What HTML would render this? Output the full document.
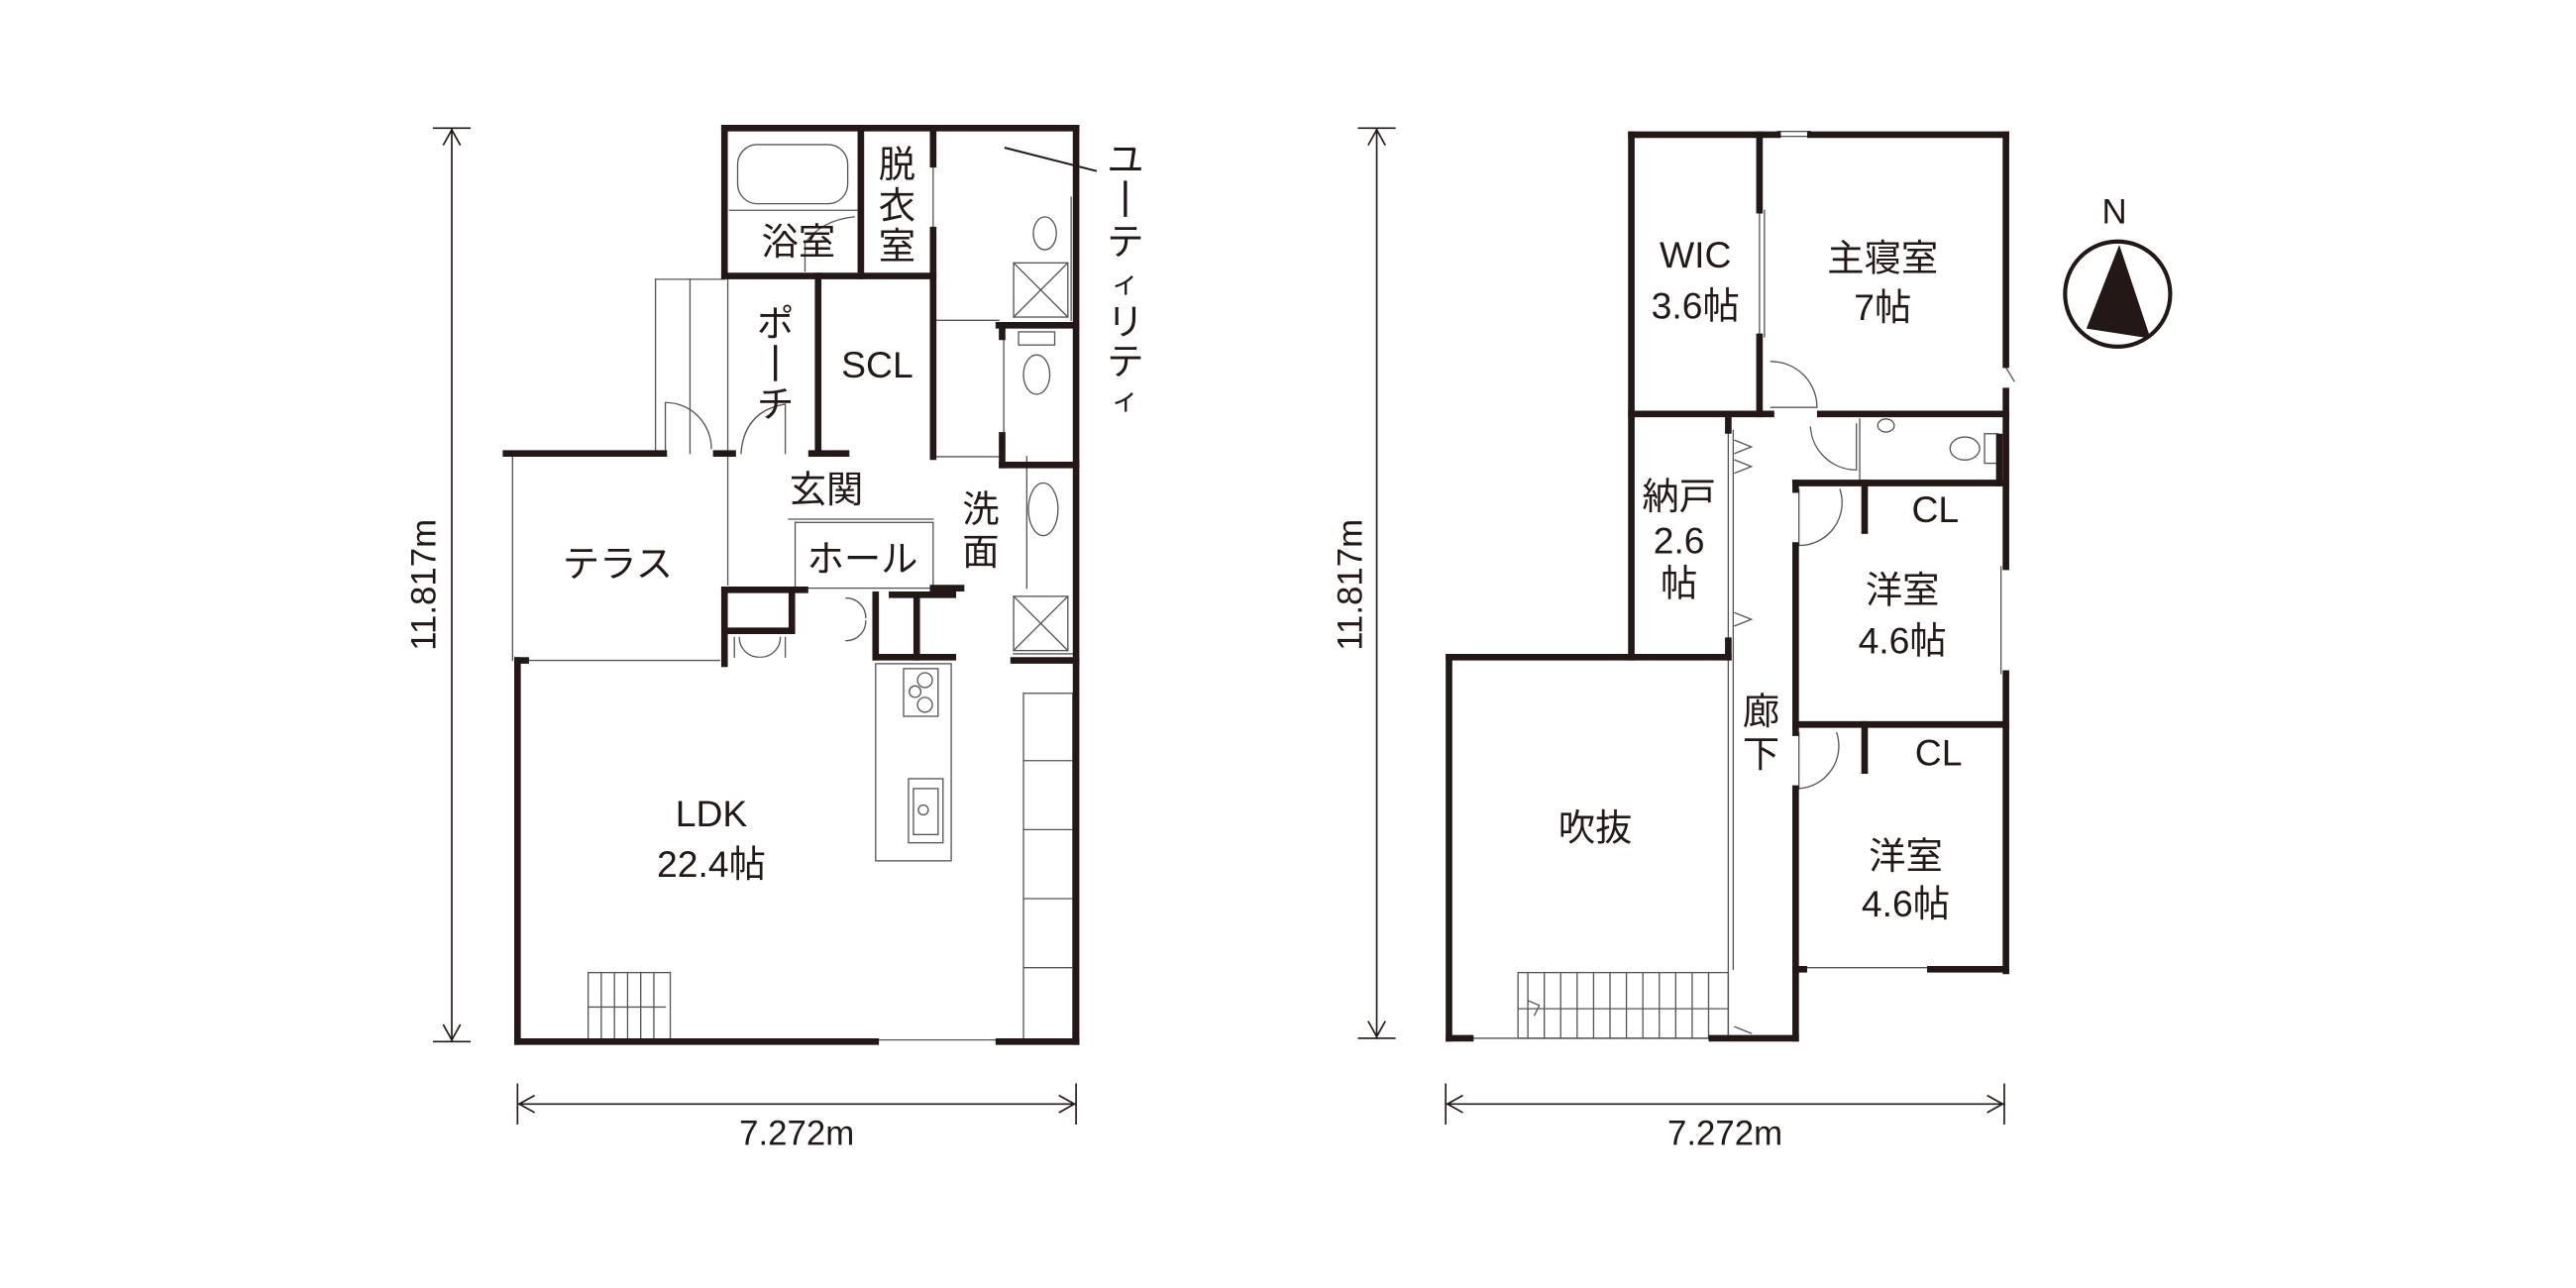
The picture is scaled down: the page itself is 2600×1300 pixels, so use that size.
<!DOCTYPE html>
<html><head><meta charset="utf-8"><style>
html,body{margin:0;padding:0;background:#fff;}
svg{display:block;}
text{font-family:"Liberation Sans","Noto Sans CJK JP",sans-serif;fill:#231815;text-anchor:middle;dominant-baseline:central;}
</style></head><body>
<svg width="2600" height="1300" viewBox="0 0 1568 784" xmlns="http://www.w3.org/2000/svg">
<g fill="none" stroke="#231815" stroke-linecap="square">
<g stroke-width="0.8" stroke="#555">
<line x1="312" y1="276" x2="312" y2="402"/>
<line x1="320" y1="402" x2="438" y2="402"/>
<line x1="399" y1="170" x2="399" y2="276"/>
<line x1="420" y1="170" x2="420" y2="276"/>
<line x1="399" y1="170" x2="441" y2="170"/>
<line x1="443" y1="170" x2="443" y2="276"/>
<line x1="443" y1="278" x2="443" y2="356"/>
<path d="M405 276 V245 A28 28 0 0 1 433 273"/>
<path d="M451 276 Q453 250 478 246 L478 276"/>
<rect x="484" y="318" width="84" height="40"/>
<line x1="480" y1="316" x2="568" y2="316"/>
<line x1="568" y1="195" x2="608" y2="195"/>
<line x1="568" y1="278" x2="608" y2="278"/>
<line x1="625" y1="278" x2="625" y2="358"/>
<ellipse cx="635" cy="310" rx="9" ry="16"/>
<line x1="611" y1="200" x2="611" y2="278"/>
<rect x="620" y="202" width="22" height="8"/>
<ellipse cx="631" cy="228" rx="8" ry="12"/>
<ellipse cx="636" cy="142" rx="7" ry="10"/>
<rect x="617" y="160" width="33" height="33"/>
<line x1="617" y1="160" x2="650" y2="193"/><line x1="650" y1="160" x2="617" y2="193"/>
<line x1="652" y1="120" x2="652" y2="195"/>
<line x1="612" y1="90" x2="667" y2="104" stroke="#231815" stroke-width="1.2"/>
<rect x="449" y="88" width="67" height="36" rx="12"/>
<line x1="444" y1="128" x2="522" y2="128"/>
<path d="M490 165 V148 Q500 134 520 132"/>
<line x1="568" y1="100" x2="568" y2="140"/>
<rect x="617" y="363" width="33" height="33"/>
<line x1="617" y1="363" x2="650" y2="396"/><line x1="650" y1="363" x2="617" y2="396"/>
<line x1="617" y1="398" x2="655" y2="398"/>
<path d="M515 364 A12 12 0 0 1 527 376 M515 390 A12 12 0 0 0 527 378"/>
<rect x="533" y="404" width="46" height="120"/>
<rect x="550" y="407" width="21" height="29"/>
<circle cx="563" cy="414" r="4.5"/><circle cx="557" cy="421" r="3.5"/><circle cx="563" cy="429" r="4.5"/>
<rect x="553" y="474" width="21" height="39"/>
<rect x="556" y="480" width="15" height="28"/>
<circle cx="562" cy="493" r="3"/>
<rect x="623" y="422" width="30" height="212"/>
<line x1="623" y1="463" x2="653" y2="463"/><line x1="623" y1="505" x2="653" y2="505"/>
<line x1="623" y1="547" x2="653" y2="547"/><line x1="623" y1="589" x2="653" y2="589"/>
<rect x="358" y="592" width="50" height="42"/>
<line x1="366" y1="592" x2="366" y2="634"/><line x1="374" y1="592" x2="374" y2="634"/><line x1="382" y1="592" x2="382" y2="634"/><line x1="390" y1="592" x2="390" y2="634"/><line x1="398" y1="592" x2="398" y2="634"/>
<line x1="358" y1="613" x2="405" y2="613"/>
<line x1="533" y1="633" x2="608" y2="633"/>
<line x1="443" y1="385" x2="482" y2="385"/>
<path d="M447 400 L447 388 M478 400 L478 388 M450 388 A12 12 0 0 0 462 400 M475 388 A12 12 0 0 1 463 400"/>
</g>
<g stroke-width="4" stroke="#231815">
<line x1="441" y1="78" x2="655" y2="78"/>
<line x1="655" y1="78" x2="655" y2="634"/>
<line x1="315" y1="634" x2="533" y2="634"/>
<line x1="608" y1="634" x2="655" y2="634"/>
<line x1="315" y1="402" x2="315" y2="634"/>
<line x1="441" y1="78" x2="441" y2="168"/>
<line x1="441" y1="168" x2="568" y2="168"/>
<line x1="524" y1="78" x2="524" y2="168"/>
<line x1="568" y1="78" x2="568" y2="100"/>
<line x1="568" y1="140" x2="568" y2="278"/>
<line x1="498" y1="168" x2="498" y2="276"/>
<line x1="308" y1="276" x2="404" y2="276"/>
<line x1="436" y1="276" x2="446" y2="276"/>
<line x1="494" y1="276" x2="515" y2="276"/>
<line x1="441" y1="359" x2="441" y2="404"/>
<line x1="441" y1="359" x2="490" y2="359"/>
<line x1="482" y1="359" x2="482" y2="384"/>
<line x1="442" y1="384" x2="482" y2="384"/>
<line x1="568" y1="358" x2="585" y2="358"/>
<line x1="608" y1="198" x2="655" y2="198"/>
<line x1="610" y1="283" x2="655" y2="283"/>
<line x1="610" y1="198" x2="610" y2="205"/>
<line x1="610" y1="265" x2="610" y2="283"/>
<line x1="533" y1="362" x2="533" y2="400"/>
<line x1="558" y1="362" x2="558" y2="400"/>
<line x1="533" y1="400" x2="580" y2="400"/>
<line x1="543" y1="362" x2="580" y2="362"/>
<line x1="617" y1="402" x2="655" y2="402"/>
<line x1="315" y1="402" x2="320" y2="402"/>
</g>
<g stroke-width="1" stroke="#231815">
<line x1="275" y1="78" x2="275" y2="634"/>
<line x1="264" y1="78" x2="286" y2="78"/><line x1="264" y1="634" x2="286" y2="634"/>
<path d="M270 88 L275 79 L280 88 M270 624 L275 633 L280 624"/>
<line x1="315" y1="672" x2="655" y2="672"/>
<line x1="315" y1="660" x2="315" y2="684"/><line x1="655" y1="660" x2="655" y2="684"/>
<path d="M325 667 L316 672 L325 677 M645 667 L654 672 L645 677"/>
</g>

<g stroke-width="0.8" stroke="#555">
<line x1="1071" y1="128" x2="1071" y2="205"/>
<line x1="1074" y1="128" x2="1074" y2="205"/>
<path d="M1078 220 A28 28 0 0 1 1106 248 L1078 248"/>
<path d="M1102 260 A28 28 0 0 0 1130 286 L1130 258"/>
<line x1="1132" y1="255" x2="1132" y2="294"/>
<ellipse cx="1148" cy="259" rx="5" ry="4"/>
<ellipse cx="1196" cy="273" rx="9" ry="7"/>
<rect x="1208" y="264" width="8" height="18"/>
<path d="M1095 298 L1095 332 A26 26 0 0 0 1120 298"/>
<line x1="1052" y1="262" x2="1052" y2="630"/>
<line x1="1055" y1="262" x2="1055" y2="590"/>
<path d="M1056 268 L1066 272 L1056 276 M1056 280 L1066 284 L1056 288 M1056 373 L1066 377 L1056 381 M1056 625 L1066 629"/>
<path d="M1095 446 L1095 480 A26 26 0 0 0 1118 446"/>
<line x1="1218" y1="345" x2="1218" y2="410"/>
<line x1="1220" y1="222" x2="1226" y2="232"/>
<rect x="924" y="592" width="128" height="40"/>
<line x1="930" y1="592" x2="930" y2="632"/>
<g>
<line x1="940" y1="592" x2="940" y2="632"/><line x1="950" y1="592" x2="950" y2="632"/><line x1="960" y1="592" x2="960" y2="632"/><line x1="970" y1="592" x2="970" y2="632"/><line x1="980" y1="592" x2="980" y2="632"/><line x1="990" y1="592" x2="990" y2="632"/><line x1="1000" y1="592" x2="1000" y2="632"/><line x1="1010" y1="592" x2="1010" y2="632"/><line x1="1020" y1="592" x2="1020" y2="632"/><line x1="1030" y1="592" x2="1030" y2="632"/><line x1="1040" y1="592" x2="1040" y2="632"/>
</g>
<line x1="924" y1="614" x2="1052" y2="614"/>
<path d="M930 609 L937 612 L934 618"/>
<line x1="895" y1="632" x2="1042" y2="632"/>
<line x1="1098" y1="589" x2="1175" y2="589"/>
<rect x="1082" y="80" width="20" height="3"/>
</g>
<g stroke-width="4" stroke="#231815">
<line x1="993" y1="82" x2="1082" y2="82"/>
<line x1="1102" y1="82" x2="1221" y2="82"/>
<line x1="1221" y1="82" x2="1221" y2="222"/>
<line x1="1221" y1="238" x2="1221" y2="345"/>
<line x1="1221" y1="410" x2="1221" y2="591"/>
<line x1="993" y1="82" x2="993" y2="400"/>
<line x1="1071" y1="82" x2="1071" y2="128"/>
<line x1="1071" y1="205" x2="1071" y2="252"/>
<line x1="993" y1="252" x2="1078" y2="252"/>
<line x1="1108" y1="252" x2="1221" y2="252"/>
<line x1="1052" y1="252" x2="1052" y2="262"/>
<line x1="882" y1="400" x2="1052" y2="400"/>
<line x1="1052" y1="390" x2="1052" y2="400"/>
<line x1="882" y1="400" x2="882" y2="632"/>
<line x1="882" y1="632" x2="895" y2="632"/>
<line x1="1042" y1="632" x2="1093" y2="632"/>
<line x1="1093" y1="294" x2="1221" y2="294"/>
<line x1="1093" y1="294" x2="1093" y2="298"/>
<line x1="1093" y1="332" x2="1093" y2="446"/>
<line x1="1093" y1="441" x2="1221" y2="441"/>
<line x1="1093" y1="480" x2="1093" y2="632"/>
<line x1="1135" y1="294" x2="1135" y2="323"/>
<line x1="1135" y1="441" x2="1135" y2="469"/>
<line x1="1175" y1="590" x2="1221" y2="590"/>
<line x1="1093" y1="590" x2="1098" y2="590"/>
<line x1="1217" y1="266" x2="1217" y2="294"/>
</g>
<g stroke-width="1" stroke="#231815">
<line x1="838" y1="78" x2="838" y2="632"/>
<line x1="827" y1="78" x2="849" y2="78"/><line x1="827" y1="632" x2="849" y2="632"/>
<path d="M833 88 L838 79 L843 88 M833 622 L838 631 L843 622"/>
<line x1="880" y1="672" x2="1220" y2="672"/>
<line x1="880" y1="660" x2="880" y2="684"/><line x1="1220" y1="660" x2="1220" y2="684"/>
<path d="M890 667 L881 672 L890 677 M1210 667 L1219 672 L1210 677"/>
</g>
<circle cx="1289" cy="179" r="32" stroke-width="2.5"/>
<path d="M1290 149 L1270 200 L1309 206 Z" fill="#231815" stroke="none"/>
</g>

<g font-size="22.5">
<text x="486" y="147">浴室</text>
<text x="546" y="100">脱</text><text x="546" y="125">衣</text><text x="546" y="150">室</text>
<text x="685" y="97">ユ</text>
<text x="685" y="147">テ</text><text x="685" y="172" font-size="17">ィ</text><text x="685" y="196">リ</text><text x="685" y="220">テ</text><text x="685" y="243" font-size="17">ィ</text>
<text x="472" y="197">ポ</text><text x="472" y="246">チ</text>
<text x="534" y="222">SCL</text>
<text x="503" y="298">玄関</text>
<text x="525" y="340">ホール</text>
<text x="597" y="310">洗</text><text x="597" y="336">面</text>
<text x="376" y="343">テラス</text>
<text x="433" y="495">LDK</text>
<text x="433" y="526">22.4帖</text>
<text x="1032" y="155">WIC</text><text x="1032" y="186">3.6帖</text>
<text x="1146" y="157">主寝室</text><text x="1146" y="187">7帖</text>
<text x="1022" y="302">納戸</text><text x="1022" y="329">2.6</text><text x="1022" y="355">帖</text>
<text x="1178" y="310">CL</text>
<text x="1158" y="359">洋室</text><text x="1158" y="390">4.6帖</text>
<text x="1072" y="433">廊</text><text x="1072" y="459">下</text>
<text x="1180" y="458">CL</text>
<text x="971" y="504">吹抜</text>
<text x="1160" y="521">洋室</text><text x="1160" y="550">4.6帖</text>
</g>
<g font-size="21">
<text x="485" y="690">7.272m</text>
<text x="1050" y="690">7.272m</text>
<text x="258" y="356" transform="rotate(-90 258 356)">11.817m</text>
<text x="822" y="356" transform="rotate(-90 822 356)">11.817m</text>
<text x="1287" y="129">N</text>
</g>
<g stroke="#231815" stroke-width="2">
<line x1="685" y1="110" x2="685" y2="132"/>
<line x1="472" y1="210" x2="472" y2="232"/>
</g>
</svg>
</body></html>
